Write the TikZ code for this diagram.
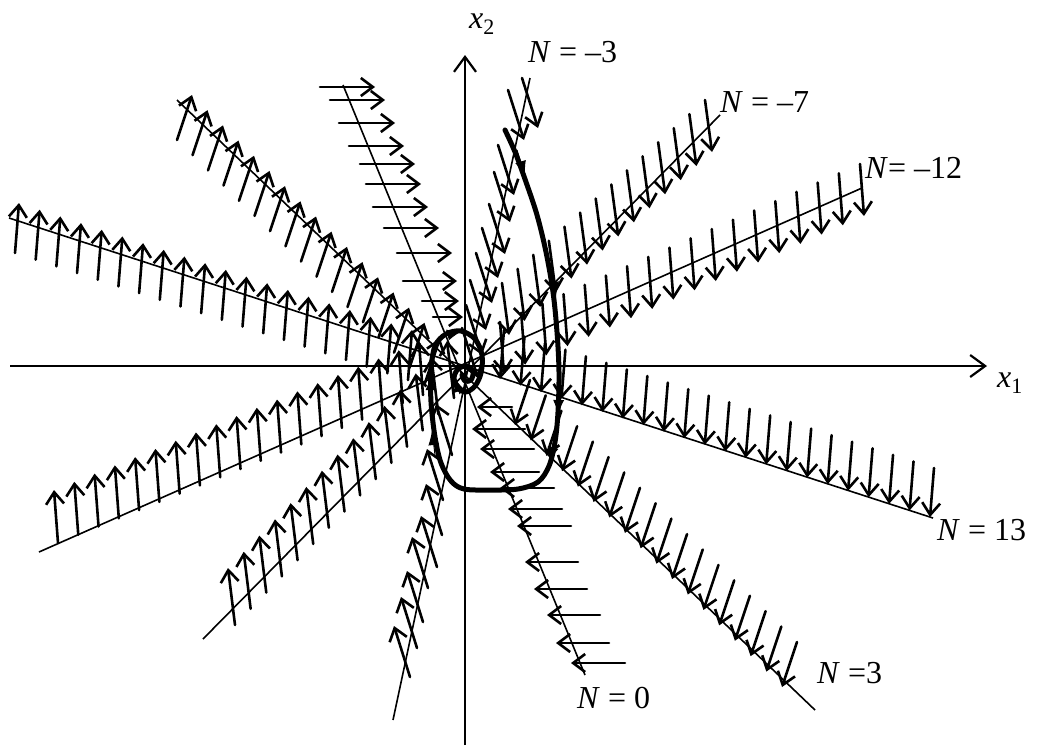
\documentclass[tikz,border=0pt]{standalone}
\usepackage{fontspec}
\setmainfont{Liberation Serif}
\usetikzlibrary{arrows.meta}
\tikzset{
  iso/.style={line width=1.6pt},
  vec/.style={line width=2.6pt, line cap=round, -{Straight Barb[length=12pt,width=18pt]}},
  axis/.style={line width=2.2pt, -{Straight Barb[length=15pt,width=22pt]}},
  traj/.style={line width=5pt, line join=round, line cap=round},
  trajtip/.style={line width=1pt, -{Latex[length=15pt,width=11pt]}},
  lab/.style={font=\fontsize{32}{38}\selectfont, inner sep=0pt, anchor=base west},
}
\newcommand\vecrun[7]{%
  \foreach \i in {1,...,#5}{%
    \pgfmathsetmacro\vrt{(\i-1)/(#5-1)}%
    \draw[vec] ({#1+\vrt*(#3-#1)},{#2+\vrt*(#4-#2)}) -- ++(#6,#7);
  }}
\begin{document}
\begin{tikzpicture}[x=1pt,y=-1pt]
\useasboundingbox (0,0) rectangle (1038,747);
% axes
\coordinate (xl) at (10,366); \coordinate (xr) at (987,366);
\coordinate (yb) at (465,745); \coordinate (yt) at (465,55);
\draw[axis] (xl) -- (xr);
\draw[axis] (yb) -- (yt);
% isoclines
\coordinate (a0) at (343,85);  \coordinate (b0) at (585,675);
\coordinate (a3) at (177,100); \coordinate (b3) at (815,710);
\coordinate (a13) at (9,218);  \coordinate (b13) at (933,518);
\coordinate (a12) at (39,552); \coordinate (b12) at (862,188);
\coordinate (a7) at (203,639); \coordinate (b7) at (720,115);
\coordinate (a3m) at (530,78); \coordinate (b3m) at (393,720);
\draw[iso] (a0) -- (b0);
\draw[iso] (a3) -- (b3);
\draw[iso] (a13) -- (b13);
\draw[iso] (a12) -- (b12);
\draw[iso] (a7) -- (b7);
\draw[iso] (a3m) -- (b3m);
% direction field arrows
\vecrun{705}{100}{502}{283}{14}{7}{52}
\vecrun{235}{625}{454}{398}{15}{-7}{-57}
\vecrun{860}{164}{500}{322}{18}{4}{52}
\vecrun{58}{543}{423}{395}{19}{-4}{-53}
\vecrun{15}{253}{408}{380}{20}{4}{-50}
\vecrun{504}{330}{934}{468}{22}{-4}{49}
\vecrun{177}{140}{425}{383}{17}{15}{-45}
\vecrun{530}{380}{797}{642}{18}{-15}{45}
% N=0 upper: right arrows
\foreach \y/\a/\b in {87/320/375,100/330/385,123/339/395,146/349/404,164/360/415,184/366/421,207/373/428,228/384/439,253/397/452,281/403/457,301/422/459,317/433/463}
  \draw[vec] (\a,\y) -- (\b,\y);
% N=0 lower: left arrows
\foreach \y/\a/\b in {407/477/512,429/472/525,449/480/534,472/490/539,488/500/554,509/508/562,526/517/571,562/525/578,589/534/587,615/547/600,643/556/609,663/571/625}
  \draw[vec] (\b,\y) -- (\a,\y);
% N=-3 upper
\foreach \x/\y in {522/78,508/90,498/145,494/172,489/204,482/228,476/253,470/280,466/305,462/328}
  \draw[vec] (\x,\y) -- ++(16,50);
% N=-3 lower
\foreach \x/\y in {452/455,443/500,442/535,437/567,428/588,423/622,417/648,410/677}
  \draw[vec] (\x,\y) -- ++(-16,-51);
% trajectory
\draw[traj] plot[smooth, tension=0.55] coordinates {(505,130) (515,152) (526,182) (537,215) (546,252) (553,292) (557,332) (559,372) (558,412) (555,442) (549,466) (538,482) (518,489) (490,490) (464,489) (451,481) (441,463) (435,437) (431,402) (431,370) (435,346) (446,334) (461,331) (475,339) (482,355) (481,373) (475,386) (466,392) (458,388) (454,378) (458,369) (467,366) (473,372) (471,380) (465,381) (462,375)};
\draw[trajtip] (517,150) -- (525,176);
\draw[trajtip] (552,272) -- (556,297);
\draw[trajtip] (559,390) -- (558,415);
\draw[trajtip] (556,437) -- (549,462);
\draw[trajtip] (435,455) -- (432,430);
\draw[trajtip] (431,400) -- (431,375);
\draw[trajtip] (440,337) -- (462,331);
\draw[trajtip] (460,394) -- (454,377);
% labels
\node[lab] (n3m) at (528,62) {\textit{N} = –3};
\node[lab] (n7m) at (720,112) {\textit{N} = –7};
\node[lab] (n12m) at (865,178) {\textit{N}= –12};
\node[lab] (n13) at (937,540) {\textit{N} = 13};
\node[lab] (n3) at (817,683) {\textit{N} =3};
\node[lab] (n0) at (577,708) {\textit{N} = 0};
\node[lab] (lx2) at (469,28) {\textit{x}\raisebox{-6pt}{\fontsize{22}{22}\selectfont 2}};
\node[lab] (lx1) at (997,387) {\textit{x}\raisebox{-6pt}{\fontsize{22}{22}\selectfont 1}};
\end{tikzpicture}
\end{document}
